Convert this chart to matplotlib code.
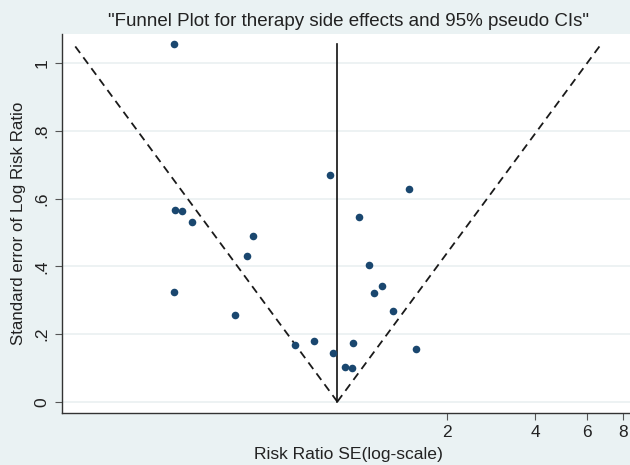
import numpy as np
import matplotlib
matplotlib.use("Agg")
import matplotlib.pyplot as plt

# study estimates: risk ratio and its standard error (log scale)
risk_ratio = [0.236, 0.802, 1.491, 0.238, 0.251, 0.271, 0.436, 0.418, 1.002, 1.084, 1.206,
              1.133, 0.236, 0.380, 1.309, 0.607, 0.704, 0.819, 0.956, 0.898, 0.951, 1.568]
std_err = [1.057, 0.670, 0.627, 0.566, 0.563, 0.530, 0.490, 0.431, 0.545, 0.404, 0.342,
           0.320, 0.323, 0.257, 0.267, 0.168, 0.179, 0.145, 0.174, 0.103, 0.100, 0.155]
pooled_rr = 0.848

x_ticks = [2, 4, 6, 8]
x_tick_labels = ["2", "4", "6", "8"]
y_ticks = [0, 0.2, 0.4, 0.6, 0.8, 1.0]
y_tick_labels = ["0", ".2", ".4", ".6", ".8", "1"]

plt.rcParams["font.family"] = ["Liberation Sans", "DejaVu Sans"]

bg = "#eaf2f3"
navy = "#1a476f"

fig = plt.figure(figsize=(6.3, 4.65), dpi=100, facecolor=bg)
# plot region runs slightly past the right edge (the original is cropped)
ax = fig.add_axes([61.7 / 630, 52.3 / 465, (635.5 - 61.7) / 630, (412.7 - 34) / 465])
ax.set_facecolor("white")

ax.set_xscale("log")
ax.set_xlim(0.0975, 8.8)
ax.set_ylim(-0.0325, 1.086)

for yv in y_ticks:
    ax.axhline(yv, color="#edf2f3", lw=1.4, zorder=0)

# pseudo 95% confidence limits
se_line = np.array([0, max(std_err)])
dash = (0, (4.5, 3))
ax.plot(pooled_rr * np.exp(-1.96 * se_line), se_line, color="#1a1a1a", lw=1.3,
        linestyle=dash, zorder=2)
ax.plot(pooled_rr * np.exp(1.96 * se_line), se_line, color="#1a1a1a", lw=1.3,
        linestyle=dash, zorder=2)
ax.plot([pooled_rr, pooled_rr], se_line, color="#111111", lw=1.2, zorder=2)

ax.scatter(risk_ratio, std_err, s=30, color=navy, zorder=3, linewidths=0)

ax.set_xticks(x_ticks)
ax.set_xticklabels(x_tick_labels)
ax.xaxis.set_minor_locator(matplotlib.ticker.NullLocator())
ax.set_yticks(y_ticks)
ax.set_yticklabels(y_tick_labels, rotation=90, va="center")

ax.tick_params(axis="both", direction="out", length=5, width=0.8, color="#555555",
               labelsize=12.5, labelcolor="#222222", pad=4)

for side in ["top", "right"]:
    ax.spines[side].set_visible(False)
for side in ["left", "bottom"]:
    ax.spines[side].set_color("#333333")
    ax.spines[side].set_linewidth(1.0)

ax.set_title('"Funnel Plot for therapy side effects and 95% pseudo CIs"',
             fontsize=13.5, color="#222222", pad=6)
ax.set_xlabel("Risk Ratio SE(log-scale)", fontsize=12.6, color="#222222", labelpad=5)
ax.set_ylabel("Standard error of Log Risk Ratio", fontsize=12.2, color="#222222", labelpad=6)

fig.savefig("out.png", dpi=100, facecolor=bg)
